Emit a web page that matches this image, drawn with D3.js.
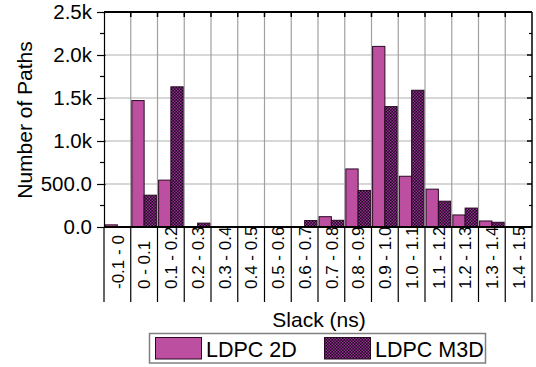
<!DOCTYPE html>
<html>
<head>
<meta charset="utf-8">
<script src="https://cdn.jsdelivr.net/npm/d3@7/dist/d3.min.js"></script>
<style>
  html, body { margin: 0; padding: 0; background: #fff; }
  svg text { font-family: "Liberation Sans", Arial, sans-serif; fill: #000; }
</style>
</head>
<body>
<svg id="chart" width="536" height="367"></svg>
<script>
const categories = ["-0.1 - 0", "0 - 0.1", "0.1 - 0.2", "0.2 - 0.3", "0.3 - 0.4", "0.4 - 0.5",
  "0.5 - 0.6", "0.6 - 0.7", "0.7 - 0.8", "0.8 - 0.9", "0.9 - 1.0", "1.0 - 1.1",
  "1.1 - 1.2", "1.2 - 1.3", "1.3 - 1.4", "1.4 - 1.5"];
const seriesNames = ["LDPC 2D", "LDPC M3D"];
const ldpc2D  = [25, 1470, 545, 0, 0, 0, 0, 0, 120, 675, 2100, 590, 440, 140, 70, 0];
const ldpcM3D = [0, 370, 1630, 45, 0, 0, 0, 75, 78, 425, 1400, 1590, 300, 220, 55, 0];
const yTicks = [0, 500, 1000, 1500, 2000, 2500];
const yTickLabels = ["0.0", "500.0", "1.0k", "1.5k", "2.0k", "2.5k"];
const yMinorTicks = [250, 750, 1250, 1750, 2250];

const svg = d3.select("#chart");
const m = { left: 104, right: 532, top: 12, bottom: 227 };

const x = d3.scaleBand().domain(categories).range([m.left, m.right]).paddingInner(0).paddingOuter(0);
const xs = d3.scaleBand().domain(seriesNames).range([0, x.bandwidth()]).paddingInner(0).paddingOuter(0.09);
const y = d3.scaleLinear().domain([0, 2500]).range([m.bottom, m.top]);

// pattern
const defs = svg.append("defs");
const pat = defs.append("pattern").attr("id", "checker").attr("patternUnits", "userSpaceOnUse")
  .attr("width", 3).attr("height", 3);
pat.append("rect").attr("width", 3).attr("height", 3).attr("fill", "#160816");
pat.append("rect").attr("x", 0).attr("y", 0).attr("width", 1.5).attr("height", 1.5).attr("fill", "#9a2e98");
pat.append("rect").attr("x", 1.5).attr("y", 1.5).attr("width", 1.5).attr("height", 1.5).attr("fill", "#9a2e98");

const fills = ["#bc4fa0", "url(#checker)"];

// gridlines
const grid = svg.append("g");
grid.selectAll("line.h").data(yTicks.slice(1)).join("line")
  .attr("x1", m.left).attr("x2", m.right)
  .attr("y1", d => y(d)).attr("y2", d => y(d))
  .attr("stroke", "#b0b0b0").attr("stroke-width", 1.2);
const boundaries = categories.slice(1).map(c => x(c));
grid.selectAll("line.v").data(boundaries).join("line")
  .attr("x1", d => d).attr("x2", d => d)
  .attr("y1", m.top).attr("y2", m.bottom)
  .attr("stroke", "#a0a0a0").attr("stroke-width", 1.2);

// bars
const data = [ldpc2D, ldpcM3D];
data.forEach((vals, si) => {
  svg.append("g").selectAll("rect").data(vals.map((v, i) => ({ c: categories[i], v })).filter(d => d.v > 0))
    .join("rect")
    .attr("x", d => x(d.c) + xs(seriesNames[si]))
    .attr("width", xs.bandwidth())
    .attr("y", d => y(d.v))
    .attr("height", d => y(0) - y(d.v))
    .attr("fill", fills[si])
    .attr("stroke", "#2a0a25").attr("stroke-width", 1);
});

// frame
svg.append("line").attr("x1", m.left).attr("x2", m.right).attr("y1", m.top).attr("y2", m.top)
  .attr("stroke", "#000").attr("stroke-width", 2);
svg.append("line").attr("x1", m.right).attr("x2", m.right).attr("y1", m.top).attr("y2", m.bottom)
  .attr("stroke", "#000").attr("stroke-width", 1.5);

// top ticks (inward)
svg.append("g").selectAll("line").data(boundaries).join("line")
  .attr("x1", d => d).attr("x2", d => d).attr("y1", m.top).attr("y2", m.top + 5)
  .attr("stroke", "#000").attr("stroke-width", 1.5);

// right ticks inward
svg.append("g").selectAll("line").data(yTicks).join("line")
  .attr("x1", m.right - 5).attr("x2", m.right).attr("y1", d => y(d)).attr("y2", d => y(d))
  .attr("stroke", "#000").attr("stroke-width", 1.5);
svg.append("g").selectAll("line").data(yMinorTicks).join("line")
  .attr("x1", m.right - 3).attr("x2", m.right).attr("y1", d => y(d)).attr("y2", d => y(d))
  .attr("stroke", "#000").attr("stroke-width", 1.2);

// left axis
const yAxis = d3.axisLeft(y).tickValues(yTicks).tickFormat((d, i) => yTickLabels[i])
  .tickSizeInner(7).tickSizeOuter(0).tickPadding(5);
const ya = svg.append("g").attr("transform", `translate(${m.left},0)`).call(yAxis);
ya.select(".domain").attr("stroke", "#000").attr("stroke-width", 1.2);
ya.selectAll(".tick line").attr("stroke", "#000").attr("stroke-width", 1.2).attr("x2", -7).attr("x1", 1.5);
ya.selectAll(".tick text").attr("font-size", 20.5).attr("font-family", "Liberation Sans, Arial, sans-serif").attr("dy", "0.34em");
svg.append("g").selectAll("line").data(yMinorTicks).join("line")
  .attr("x1", m.left - 4).attr("x2", m.left).attr("y1", d => y(d)).attr("y2", d => y(d))
  .attr("stroke", "#000").attr("stroke-width", 1.2);

// bottom axis line
svg.append("line").attr("x1", m.left).attr("x2", m.right).attr("y1", m.bottom).attr("y2", m.bottom)
  .attr("stroke", "#000").attr("stroke-width", 2);

// separators under axis
const allBounds = [m.left].concat(boundaries).concat([m.right]);
svg.append("g").selectAll("line").data(allBounds).join("line")
  .attr("x1", d => d).attr("x2", d => d).attr("y1", m.bottom).attr("y2", 302)
  .attr("stroke", "#000").attr("stroke-width", 1.2);

// category labels
svg.append("g").selectAll("text").data(categories).join("text")
  .attr("transform", d => `translate(${x(d) + x.bandwidth() / 2},289) rotate(-90)`)
  .attr("text-anchor", "start").attr("dy", "0.36em")
  .attr("font-size", 17).text(d => d);

// axis titles
svg.append("text").attr("x", 319).attr("y", 327).attr("text-anchor", "middle")
  .attr("font-size", 21).text("Slack (ns)");
svg.append("text").attr("transform", "translate(32,120) rotate(-90)").attr("text-anchor", "middle")
  .attr("font-size", 21).text("Number of Paths");

// legend
const lg = svg.append("g");
lg.append("rect").attr("x", 149.5).attr("y", 333.5).attr("width", 336).attr("height", 29.5)
  .attr("fill", "#fff").attr("stroke", "#808080").attr("stroke-width", 1.5);
const lx = [155, 324];
seriesNames.forEach((s, i) => {
  lg.append("rect").attr("x", lx[i] + 0.5).attr("y", 337.5).attr("width", 46).attr("height", 21.5)
    .attr("fill", fills[i]).attr("stroke", "#2a0a25").attr("stroke-width", 1);
  lg.append("text").attr("x", lx[i] + 51).attr("y", 356.5).attr("font-size", 21.5).text(s);
});
</script>
</body>
</html>
